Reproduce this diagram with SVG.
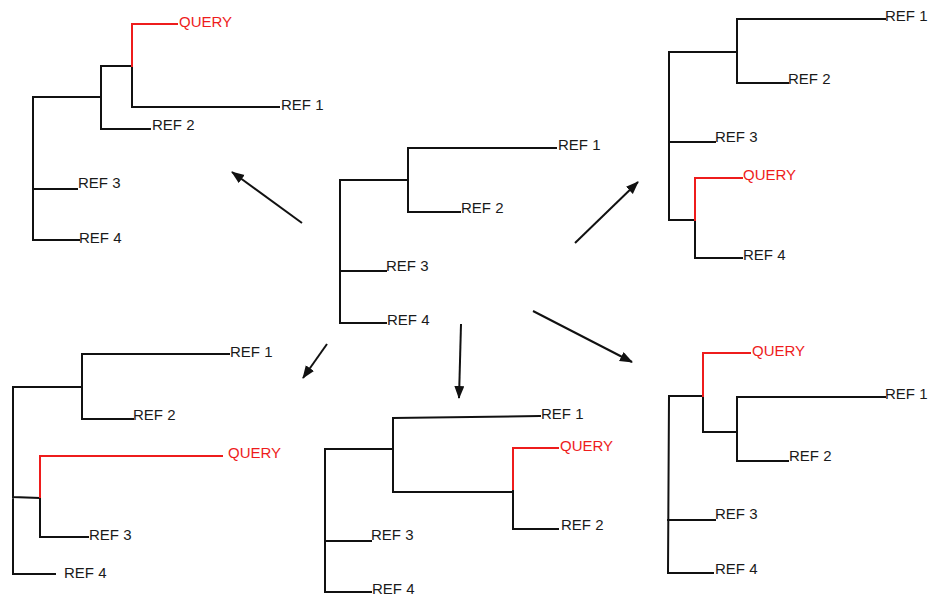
<svg xmlns="http://www.w3.org/2000/svg" width="934" height="596" viewBox="0 0 934 596">
  <style>
    .br { fill: none; stroke: #111; stroke-width: 2; stroke-linecap: square; }
    .q { fill: none; stroke: #ee1c1c; stroke-width: 2; stroke-linecap: square; }
    .lb { font-family: "Liberation Sans", Arial, sans-serif; font-size: 15px; fill: #1a1a1a; }
    .ql { font-family: "Liberation Sans", Arial, sans-serif; font-size: 15px; fill: #ee1c1c; }
    .ar { stroke: #111; stroke-width: 2; fill: none; marker-end: url(#head); }
  </style>
  <defs>
    <marker id="head" markerUnits="userSpaceOnUse" markerWidth="14" markerHeight="12" refX="12" refY="5" orient="auto">
      <path d="M0,0 L13,5 L0,10 Z" fill="#111"/>
    </marker>
  </defs>
  <rect width="934" height="596" fill="#fff"/>

  <!-- reference tree (centre) -->
  <g id="tree-centre">
    <path class="br" d="M340,180 V323 M340,180 H408 M408,148 V212 M408,148 H556 M408,212 H460 M340,271 H386 M340,323 H386"/>
    <text class="lb" x="558" y="150">REF 1</text>
    <text class="lb" x="461" y="213">REF 2</text>
    <text class="lb" x="386" y="271">REF 3</text>
    <text class="lb" x="387" y="325">REF 4</text>
  </g>

  <!-- placement: query sister to REF 1 -->
  <g id="tree-top-left">
    <path class="br" d="M33,97 V240 M33,97 H101 M101,66 V129 M101,66 H132 M132,66 V107 M132,107 H279 M101,129 H150 M33,189 H77 M33,240 H79"/>
    <path class="q" d="M132,66 V24 H177"/>
    <text class="ql" x="179" y="27">QUERY</text>
    <text class="lb" x="281" y="110">REF 1</text>
    <text class="lb" x="152" y="130">REF 2</text>
    <text class="lb" x="78" y="188">REF 3</text>
    <text class="lb" x="79" y="243">REF 4</text>
  </g>

  <!-- placement: query sister to REF 4 -->
  <g id="tree-top-right">
    <path class="br" d="M669,52 V220 M669,52 H737 M737,19 V83 M737,19 H885 M737,83 H788 M669,142 H715 M669,220 H695 M695,220 V258 H742"/>
    <path class="q" d="M695,220 V178 H742"/>
    <text class="lb" x="885" y="21">REF 1</text>
    <text class="lb" x="788" y="84">REF 2</text>
    <text class="lb" x="715" y="142">REF 3</text>
    <text class="ql" x="743" y="180">QUERY</text>
    <text class="lb" x="743" y="260">REF 4</text>
  </g>

  <!-- placement: query sister to REF 3 -->
  <g id="tree-bottom-left">
    <path class="br" d="M13,387 V574 M13,387 H82 M82,354 V419 M82,354 H229 M82,419 H133 M13,497 L40,498 M40,498 V537 H88 M13,574 H55"/>
    <path class="q" d="M40,497 V456 H222"/>
    <text class="lb" x="230" y="357">REF 1</text>
    <text class="lb" x="133" y="420">REF 2</text>
    <text class="ql" x="228" y="458">QUERY</text>
    <text class="lb" x="89" y="540">REF 3</text>
    <text class="lb" x="64" y="578">REF 4</text>
  </g>

  <!-- placement: query sister to REF 2 -->
  <g id="tree-bottom-middle">
    <path class="br" d="M325,449 V592 M325,449 H393 M393,418 V492 M393,418 L540,416 M393,492 H513 M513,490 V529 H558 M325,541 H371 M325,592 H371"/>
    <path class="q" d="M513,489 V448 H558"/>
    <text class="lb" x="541" y="419">REF 1</text>
    <text class="ql" x="560" y="451">QUERY</text>
    <text class="lb" x="561" y="530">REF 2</text>
    <text class="lb" x="371" y="540">REF 3</text>
    <text class="lb" x="372" y="594">REF 4</text>
  </g>

  <!-- placement: query sister to (REF 1, REF 2) -->
  <g id="tree-bottom-right">
    <path class="br" d="M669,396 L668,573 M669,396 H703 M703,396 V432 H737 M737,397 V461 M737,397 H885 M737,461 H788 M668,520 H715 M668,573 H713"/>
    <path class="q" d="M703,396 V353 H750"/>
    <text class="ql" x="752" y="356">QUERY</text>
    <text class="lb" x="885" y="399">REF 1</text>
    <text class="lb" x="789" y="461">REF 2</text>
    <text class="lb" x="715" y="519">REF 3</text>
    <text class="lb" x="715" y="574">REF 4</text>
  </g>

  <!-- arrows from the reference tree to each placement -->
  <g id="connectors">
    <line class="ar" x1="302" y1="223" x2="232" y2="172"/>
    <line class="ar" x1="575" y1="243" x2="638" y2="182"/>
    <line class="ar" x1="327" y1="344" x2="303" y2="378"/>
    <line class="ar" x1="461" y1="324" x2="459" y2="398"/>
    <line class="ar" x1="533" y1="311" x2="632" y2="362"/>
  </g>
</svg>
